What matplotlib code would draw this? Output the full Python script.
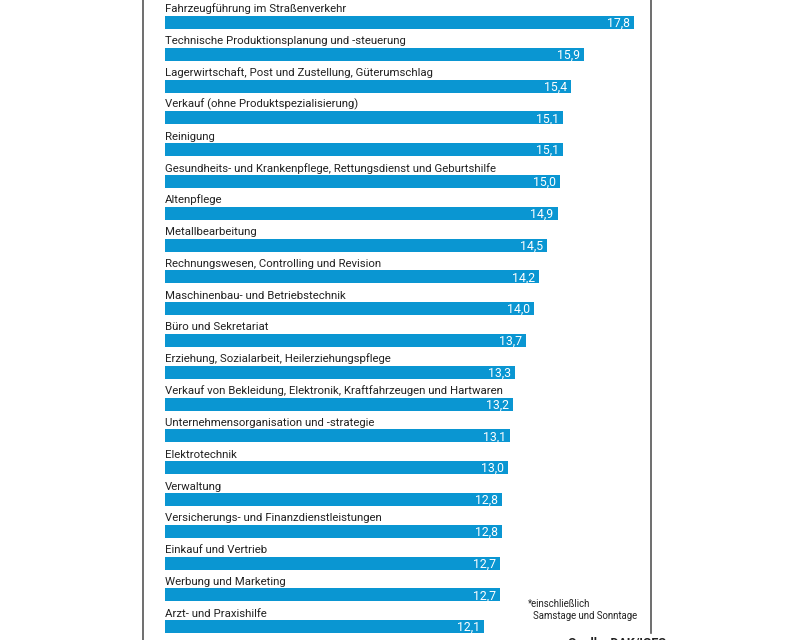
import matplotlib.pyplot as plt
from matplotlib.lines import Line2D

labels = [
    "Fahrzeugführung im Straßenverkehr",
    "Technische Produktionsplanung und -steuerung",
    "Lagerwirtschaft, Post und Zustellung, Güterumschlag",
    "Verkauf (ohne Produktspezialisierung)",
    "Reinigung",
    "Gesundheits- und Krankenpflege, Rettungsdienst und Geburtshilfe",
    "Altenpflege",
    "Metallbearbeitung",
    "Rechnungswesen, Controlling und Revision",
    "Maschinenbau- und Betriebstechnik",
    "Büro und Sekretariat",
    "Erziehung, Sozialarbeit, Heilerziehungspflege",
    "Verkauf von Bekleidung, Elektronik, Kraftfahrzeugen und Hartwaren",
    "Unternehmensorganisation und -strategie",
    "Elektrotechnik",
    "Verwaltung",
    "Versicherungs- und Finanzdienstleistungen",
    "Einkauf und Vertrieb",
    "Werbung und Marketing",
    "Arzt- und Praxishilfe",
]
values = [17.8, 15.9, 15.4, 15.1, 15.1, 15.0, 14.9, 14.5, 14.2, 14.0,
          13.7, 13.3, 13.2, 13.1, 13.0, 12.8, 12.8, 12.7, 12.7, 12.1]

plt.rcParams['font.family'] = ['Roboto', 'DejaVu Sans']
blue = '#0A96D2'
W, H = 800, 640
fig = plt.figure(figsize=(8, 6.4), dpi=100)

# x=0 at 165px, 26.35 px per unit; rows 31.8 px apart, first at 22px
x0, ppu = 165, 26.35
xmax = (W - x0) / ppu
y0, step = 22.5, 31.8
ax = fig.add_axes([x0 / W, 0, 1 - x0 / W, 1])
ax.set_xlim(0, xmax)
ax.set_ylim((H - y0) / step, -y0 / step)
ax.axis('off')

bh = 13 / step
pos = list(range(len(values)))
ax.barh(pos, values, height=bh, color=blue)
for i, (lab, v) in enumerate(zip(labels, values)):
    ax.text(0, i - bh / 2 - 3.5 / step, lab, fontsize=8.2, color='#222222',
            ha='left', va='baseline')
    ax.text(v - 4 / ppu, i + 0.03, f"{v:.1f}".replace('.', ','), fontsize=8.8,
            color='white', ha='right', va='center')

# frame lines
fig.add_artist(Line2D([143 / W, 143 / W], [0, 1], color='#555555', lw=1.2))
fig.add_artist(Line2D([651 / W, 651 / W], [1 - 633 / H, 1], color='#555555', lw=1.2))

fig.text(528 / W, 1 - 604 / H, "*einschließlich", fontsize=6.9, color='#222222',
         ha='left', va='center')
fig.text(533 / W, 1 - 616 / H, "Samstage und Sonntage", fontsize=6.9, color='#222222',
         ha='left', va='center')
fig.text(568 / W, 1 - 636 / H, "Quelle: DAK/IGES", fontsize=9, color='#222222',
         ha='left', va='top', fontweight='bold')

fig.savefig('out.png', dpi=100, facecolor='white')
